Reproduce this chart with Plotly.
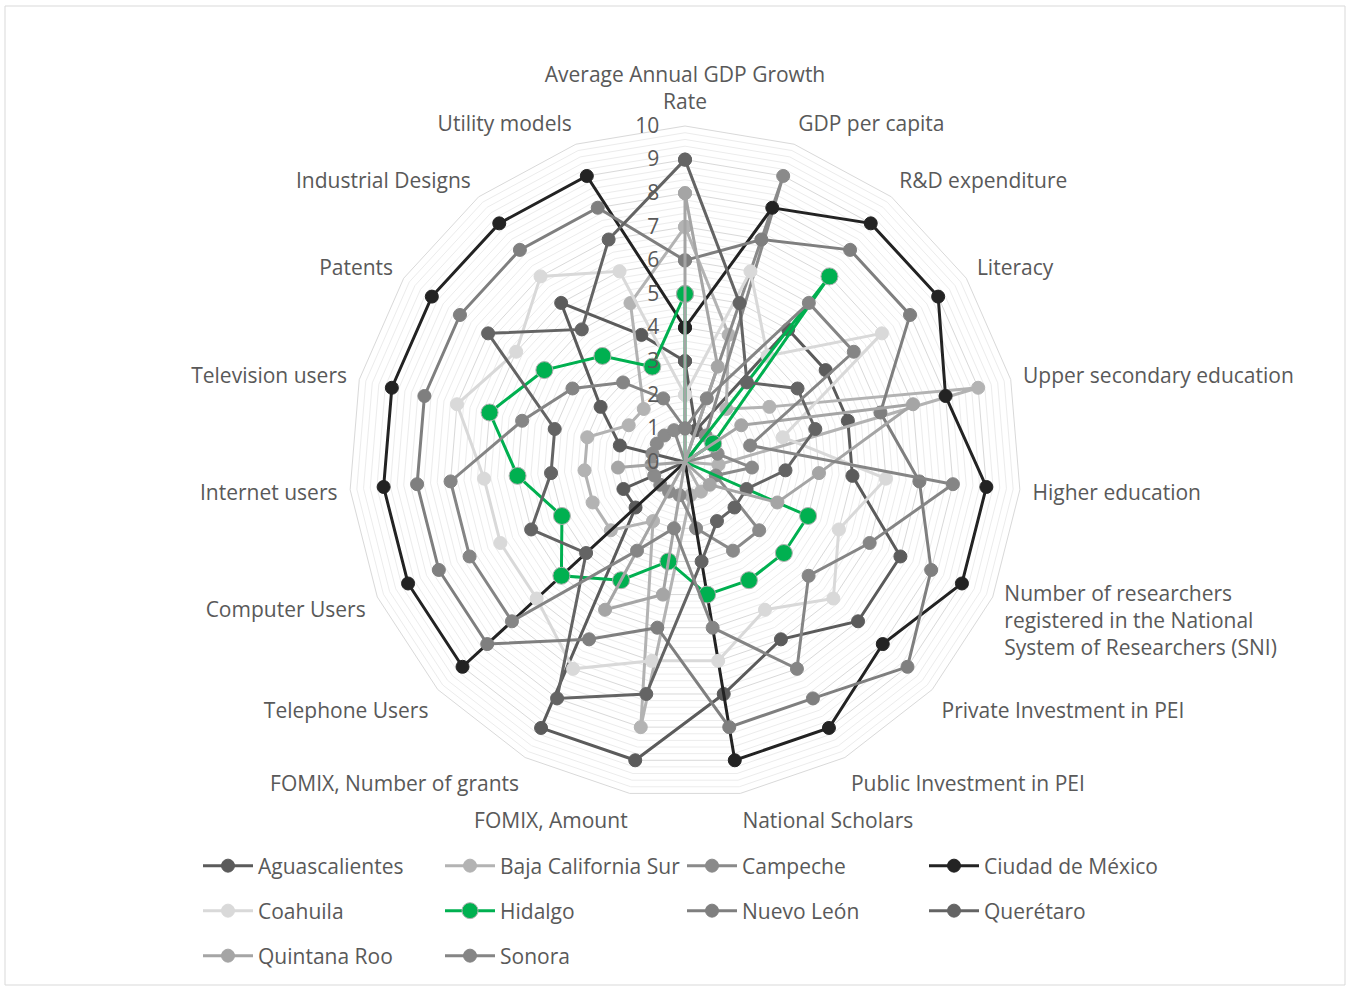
import plotly.graph_objects as go

# ---------------- data ----------------
categories = [
    "Average Annual GDP Growth<br>Rate",
    "GDP per capita",
    "R&D expenditure",
    "Literacy",
    "Upper secondary education",
    "Higher education",
    "Number of researchers<br>registered in the National<br>System of Researchers (SNI)",
    "Private Investment in PEI",
    "Public Investment in PEI",
    "National Scholars",
    "FOMIX, Amount",
    "FOMIX, Number of grants",
    "Telephone Users",
    "Computer Users",
    "Internet users",
    "Television users",
    "Patents",
    "Industrial Designs",
    "Utility models",
]

series_names = ["Aguascalientes", "Baja California Sur", "Campeche", "Ciudad de México",
                "Coahuila", "Hidalgo", "Nuevo León", "Querétaro", "Quintana Roo", "Sonora"]

aguascalientes = [3, 1, 5, 5, 5, 5, 7, 7, 6, 7, 9, 9, 2, 2, 0, 2, 3, 6, 4]
baja_california_sur = [7, 4, 2, 3, 9, 1, 0, 0, 1, 1, 8, 2, 3, 3, 3, 3, 2, 2, 5]
campeche = [0, 9, 1, 0, 1, 2, 1, 3, 3, 2, 1, 1, 1, 1, 1, 1, 1, 1, 1]
ciudad_de_mexico = [4, 8, 9, 9, 8, 9, 9, 8, 9, 9, 0, 0, 9, 9, 9, 9, 9, 9, 9]
coahuila = [2, 6, 4, 7, 3, 6, 5, 6, 5, 6, 6, 7, 6, 6, 6, 7, 6, 7, 6]
hidalgo = [5, 0, 7, 1, 0, 0, 4, 4, 4, 4, 3, 4, 5, 4, 5, 6, 5, 4, 3]
nuevo_leon = [6, 7, 8, 8, 6, 7, 8, 9, 8, 8, 5, 6, 8, 8, 8, 8, 8, 8, 8]
queretaro = [9, 5, 3, 4, 4, 3, 2, 2, 2, 3, 7, 8, 4, 5, 4, 4, 7, 5, 7]
quintana_roo = [8, 3, 0, 2, 7, 4, 3, 1, 0, 0, 4, 5, 0, 0, 2, 0, 0, 0, 0]
sonora = [1, 2, 6, 6, 2, 8, 6, 5, 7, 5, 2, 3, 7, 7, 7, 5, 4, 3, 2]

series_values = [aguascalientes, baja_california_sur, campeche, ciudad_de_mexico, coahuila,
                 hidalgo, nuevo_leon, queretaro, quintana_roo, sonora]

radial_ticks = list(range(0, 11))

# ---------------- styles ----------------
colors = ["#5b5b5b", "#b3b3b3", "#8a8a8a", "#232323", "#d9d9d9",
          "#00b050", "#7f7f7f", "#646464", "#a5a5a5", "#858585"]
legend_ids = ["legend", "legend", "legend", "legend",
              "legend2", "legend2", "legend2", "legend2",
              "legend3", "legend3"]

TXT = "#595959"
FONT = "Open Sans"
FS = 21

W, H = 1349, 987
cx, cy, R = 685, 462, 336
dom_x = [(cx - R) / W, (cx + R) / W]
dom_y = [(H - cy - R) / H, (H - cy + R) / H]

fig = go.Figure()

# helper trace for the background (minor grid) polar layer
fig.add_trace(go.Scatterpolar(
    r=[0] * len(categories), theta=categories, mode="lines",
    line=dict(width=0, color="rgba(0,0,0,0)"), showlegend=False,
    hoverinfo="skip", subplot="polar"))

for name, vals, col, lg in zip(series_names, series_values, colors, legend_ids):
    is_green = name == "Hidalgo"
    fig.add_trace(go.Scatterpolar(
        r=vals + [vals[0]],
        theta=categories + [categories[0]],
        mode="lines+markers",
        name=name,
        line=dict(color=col, width=3),
        marker=dict(size=17 if is_green else 13, color=col,
                    line=dict(color="#b0b0b0" if is_green else col, width=1)),
        subplot="polar2",
        legend=lg,
    ))

minor_vals = [i / 5 for i in range(0, 51) if i % 5 != 0]

common_ang = dict(direction="clockwise", rotation=90, type="category",
                  categoryarray=categories, showgrid=False)

legend_common = dict(orientation="h", x=198 / W, xanchor="left", yanchor="middle",
                     entrywidth=177, entrywidthmode="pixels", itemwidth=50,
                     font=dict(family=FONT, size=FS, color=TXT),
                     bgcolor="rgba(0,0,0,0)")

fig.update_layout(
    width=W, height=H,
    margin=dict(l=0, r=0, t=0, b=0),
    paper_bgcolor="white",
    plot_bgcolor="white",
    font=dict(family=FONT, color=TXT, size=FS),
    polar=dict(
        domain=dict(x=dom_x, y=dom_y),
        bgcolor="rgba(0,0,0,0)",
        gridshape="linear",
        angularaxis=dict(**common_ang, ticks="", showline=False, showticklabels=False),
        radialaxis=dict(range=[0, 10], tickmode="array", tickvals=minor_vals,
                        showticklabels=False, showline=False, ticks="",
                        gridcolor="#ececec", gridwidth=1),
    ),
    polar2=dict(
        domain=dict(x=dom_x, y=dom_y),
        bgcolor="rgba(0,0,0,0)",
        gridshape="linear",
        angularaxis=dict(**common_ang, showline=True, linecolor="#d9d9d9", linewidth=1,
                         ticks="outside", ticklen=8, tickcolor="rgba(0,0,0,0)",
                         tickfont=dict(family=FONT, size=FS, color=TXT)),
        radialaxis=dict(range=[0, 10], tickmode="array", tickvals=radial_ticks,
                        ticktext=[str(v) for v in radial_ticks],
                        angle=90, tickangle=90, side="counterclockwise",
                        showline=False, ticks="outside", ticklen=18,
                        tickcolor="rgba(0,0,0,0)", gridcolor="#d9d9d9", gridwidth=1,
                        tickfont=dict(family=FONT, size=FS, color=TXT)),
    ),
    legend=dict(**legend_common, y=(H - 866) / H),
    legend2=dict(**legend_common, y=(H - 911) / H),
    legend3=dict(**legend_common, y=(H - 956) / H),
    shapes=[dict(type="rect", xref="paper", yref="paper",
                 x0=5 / W, x1=1345 / W, y0=2 / H, y1=1 - 6 / H,
                 line=dict(color="#d9d9d9", width=1), fillcolor="rgba(0,0,0,0)", layer="below")],
)

fig.write_html("out.html")
